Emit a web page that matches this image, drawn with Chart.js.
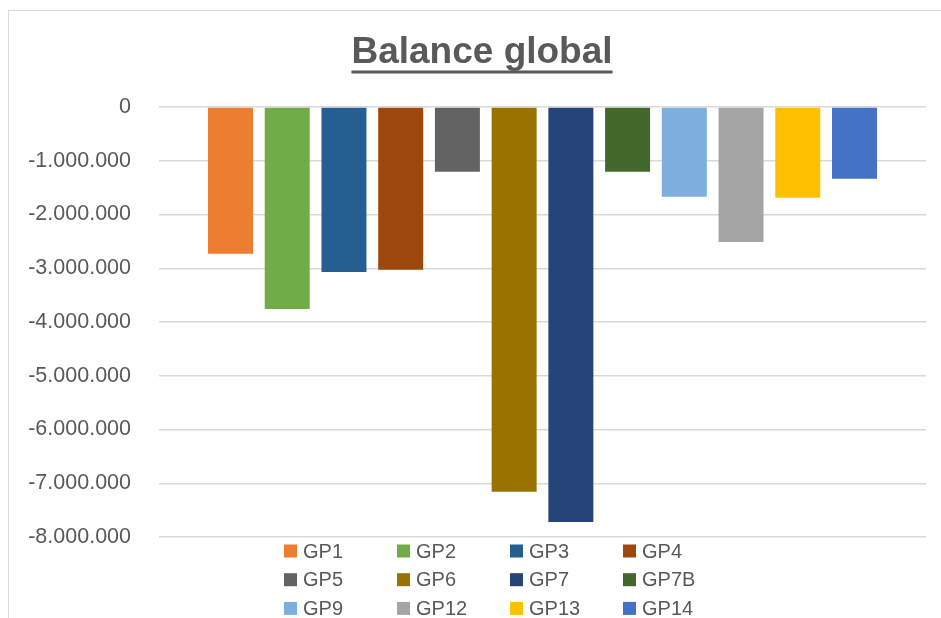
<!DOCTYPE html>
<html lang="fr">
<head>
<meta charset="UTF-8">
<title>Balance global</title>
<script src="https://cdn.jsdelivr.net/npm/chart.js"></script>
<style>
    html, body { margin: 0; padding: 0; background: #fff; overflow: hidden; }
    .frame {
        position: absolute;
        left: 8px;
        top: 10px;
        border-left: 1px solid #d9d9d9;
        border-top: 1px solid #d9d9d9;
    }
    canvas { display: block; }
</style>
</head>
<body>
<div class="frame">
    <canvas id="balanceChart" width="946" height="640"></canvas>
</div>

<script>
    // groups and their global balance
    const groups = ['GP1', 'GP2', 'GP3', 'GP4', 'GP5', 'GP6', 'GP7', 'GP7B', 'GP9', 'GP12', 'GP13', 'GP14'];
    const balances = [-2730000, -3760000, -3070000, -3030000, -1205000, -7160000, -7720000, -1205000, -1670000, -2510000, -1690000, -1335000];
    const colors = ['#ED7D31', '#70AD47', '#255E91', '#9E480E', '#636363', '#997300', '#264478', '#43682B', '#7CAFDD', '#A5A5A5', '#FFC000', '#4472C4'];

    // y axis range
    const yMin = -8000000;
    const yMax = 0;
    const yStep = 1000000;

    const chartTitle = 'Balance global';
    const textColor = '#595959';
    const fontFamily = '"Liberation Sans", Arial, sans-serif';

    // 1234567 -> 1.234.567
    function formatNumber(v) {
        const s = Math.abs(v).toString().replace(/\B(?=(\d{3})+(?!\d))/g, '.');
        return (v < 0 ? '-' : '') + s;
    }

    // underlined title, centred on the whole frame
    const underlinedTitle = {
        id: 'underlinedTitle',
        afterDraw(chart, args, opts) {
            const ctx = chart.ctx;
            ctx.save();
            ctx.font = `bold ${opts.size}px ${fontFamily}`;
            ctx.fillStyle = textColor;
            ctx.textAlign = 'center';
            ctx.textBaseline = 'alphabetic';
            const cx = chart.width / 2;
            ctx.fillText(opts.text, cx, opts.baseline);
            const w = ctx.measureText(opts.text).width;
            ctx.fillRect(cx - w / 2, opts.baseline + 7.5, w, 3);
            ctx.restore();
        }
    };

    // legend in a 4 column grid under the plot
    const gridLegend = {
        id: 'gridLegend',
        afterDraw(chart, args, opts) {
            const ctx = chart.ctx;
            ctx.save();
            ctx.font = `${opts.fontSize}px ${fontFamily}`;
            ctx.textBaseline = 'middle';
            ctx.textAlign = 'left';
            chart.data.datasets.forEach((ds, i) => {
                const col = i % opts.columns;
                const row = Math.floor(i / opts.columns);
                const x = opts.left + col * opts.colWidth;
                const y = opts.top + row * opts.rowHeight;
                ctx.fillStyle = ds.backgroundColor;
                ctx.fillRect(x, y - opts.box / 2, opts.box, opts.box);
                ctx.fillStyle = textColor;
                ctx.fillText(ds.label, x + opts.box + 6, y + 1);
            });
            ctx.restore();
        }
    };

    const ctx = document.getElementById('balanceChart').getContext('2d');
    const balanceChart = new Chart(ctx, {
        type: 'bar',
        data: {
            labels: [''],
            datasets: groups.map((g, i) => ({
                label: g,
                data: [balances[i]],
                backgroundColor: colors[i],
                borderWidth: 0
            }))
        },
        options: {
            responsive: false,
            animation: false,
            devicePixelRatio: 1,
            categoryPercentage: 0.8875,
            barPercentage: 0.793,
            layout: {
                padding: { left: 12, right: 29, top: 96, bottom: 114 }
            },
            scales: {
                x: {
                    display: false
                },
                y: {
                    min: yMin,
                    max: yMax,
                    afterFit(scale) {
                        // fixed axis width so the plot starts where it should
                        scale.width = 138;
                    },
                    border: { display: false },
                    grid: {
                        color: '#d9d9d9',
                        lineWidth: 1.5,
                        drawTicks: false
                    },
                    ticks: {
                        stepSize: yStep,
                        padding: 28,
                        color: textColor,
                        font: { family: fontFamily, size: 21.5 },
                        callback: (v) => formatNumber(v)
                    }
                }
            },
            plugins: {
                legend: { display: false },
                title: { display: false },
                tooltip: { enabled: false },
                underlinedTitle: {
                    text: chartTitle,
                    size: 37,
                    baseline: 52
                },
                gridLegend: {
                    columns: 4,
                    left: 275,
                    top: 540,
                    colWidth: 113,
                    rowHeight: 28.7,
                    box: 13,
                    fontSize: 20
                }
            }
        },
        plugins: [underlinedTitle, gridLegend]
    });
</script>
</body>
</html>
